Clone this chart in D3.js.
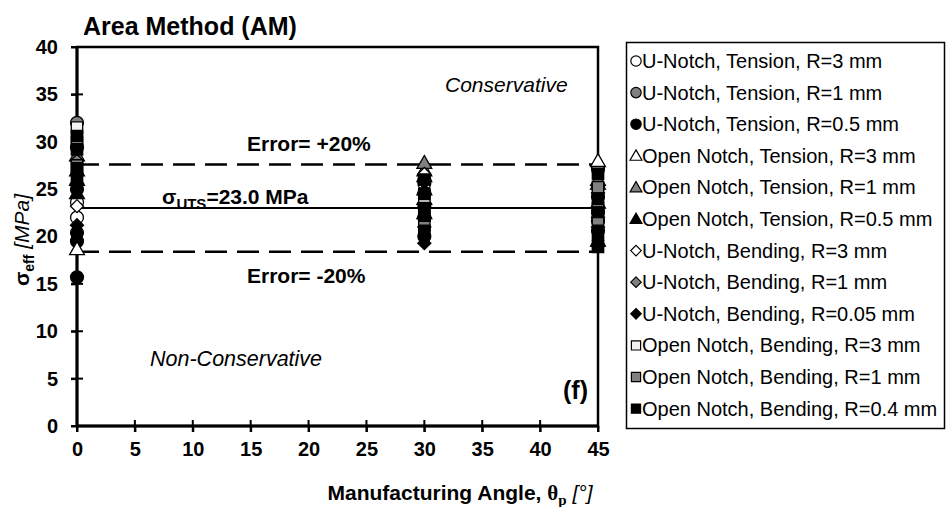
<!DOCTYPE html>
<html>
<head>
<meta charset="utf-8">
<script src="https://cdn.jsdelivr.net/npm/d3@7"></script>
<style>
  body { margin: 0; background: #fff; }
  svg { font-family: "Liberation Sans", Arial, sans-serif; }
</style>
</head>
<body>
<div id="chart"></div>
<script>
// chart data
var xTicks = [0, 5, 10, 15, 20, 25, 30, 35, 40, 45];
var yTicks = [0, 5, 10, 15, 20, 25, 30, 35, 40];
var angles = [0, 30, 45];
var sigmaUTS = 23.0;
var errBand = 0.20;

var seriesNames = [
  "U-Notch, Tension, R=3 mm",
  "U-Notch, Tension, R=1 mm",
  "U-Notch, Tension, R=0.5 mm",
  "Open Notch, Tension, R=3 mm",
  "Open Notch, Tension, R=1 mm",
  "Open Notch, Tension, R=0.5 mm",
  "U-Notch, Bending, R=3 mm",
  "U-Notch, Bending, R=1 mm",
  "U-Notch, Bending, R=0.05 mm",
  "Open Notch, Bending, R=3 mm",
  "Open Notch, Bending, R=1 mm",
  "Open Notch, Bending, R=0.4 mm"
];
var seriesShapes = ["circle", "circle", "circle", "triangle", "triangle", "triangle",
                    "diamond", "diamond", "diamond", "square", "square", "square"];
var seriesFills = ["#ffffff", "#808080", "#000000", "#ffffff", "#808080", "#000000",
                   "#ffffff", "#808080", "#000000", "#f2f2f2", "#808080", "#000000"];

// sigma_eff values per series, one list per angle (0, 30, 45)
var uTens3   = [[22.0, 23.6], [24.6, 25.6], [27.1, 24.2]];
var uTens1   = [[32.0, 29.4], [26.0, 23.2], [25.2, 21.6]];
var uTens05  = [[19.5, 15.7, 25.0, 20.4], [22.0, 20.0], [22.6, 20.6]];
var oTens3   = [[18.7, 27.0], [27.0, 26.4], [28.0, 25.6]];
var oTens1   = [[28.6], [27.8, 24.0], [26.0]];
var oTens05  = [[26.0, 24.6], [25.0, 22.5], [23.6, 19.6]];
var uBend3   = [[23.2], [26.6], [24.6]];
var uBend1   = [[28.0], [23.5], [22.0]];
var uBend005 = [[25.6, 21.2], [19.3, 21.0], [19.0, 21.0]];
var oBend3   = [[31.5, 30.0], [24.0], [23.0]];
var oBend1   = [[27.5], [21.2], [21.8, 25.2]];
var oBend04  = [[29.2, 30.6, 27.2, 26.2], [26.0, 24.5, 23.0, 22.2, 20.6], [26.6, 24.0, 22.6, 20.2, 18.9]];
var seriesValues = [uTens3, uTens1, uTens05, oTens3, oTens1, oTens05,
                    uBend3, uBend1, uBend005, oBend3, oBend1, oBend04];

var W = 946, H = 507;
var svg = d3.select("#chart").append("svg")
    .attr("width", W)
    .attr("height", H);

var x = d3.scaleLinear().domain([0, 45]).range([77, 598]);
var y = d3.scaleLinear().domain([0, 40]).range([426, 47]);

// frame (top + right)
svg.append("rect")
    .attr("x", x(0)).attr("y", y(40))
    .attr("width", x(45) - x(0)).attr("height", y(0) - y(40))
    .attr("fill", "none").attr("stroke", "#000").attr("stroke-width", 2.5);

// reference lines
svg.append("line")
    .attr("x1", x(0)).attr("x2", x(45))
    .attr("y1", y(sigmaUTS)).attr("y2", y(sigmaUTS))
    .attr("stroke", "#000").attr("stroke-width", 2);
[1 + errBand, 1 - errBand].forEach(function (f) {
  svg.append("line")
      .attr("x1", x(0)).attr("x2", x(45))
      .attr("y1", y(sigmaUTS * f)).attr("y2", y(sigmaUTS * f))
      .attr("stroke", "#000").attr("stroke-width", 2.5)
      .attr("stroke-dasharray", "22,10");
});

// axes
var yAxis = svg.append("g").attr("transform", "translate(" + x(0) + ",0)");
yAxis.call(d3.axisLeft(y).tickValues(d3.range(0, 41, 1)).tickSize(-5).tickFormat(""));
yAxis.call(d3.axisLeft(y).tickValues(yTicks).tickSize(6).tickFormat(d3.format("d")));
yAxis.selectAll("path.domain").remove();
yAxis.selectAll("line").attr("stroke", "#000").attr("stroke-width", 2);
yAxis.selectAll("text")
    .attr("font-size", 20).attr("font-weight", "bold").attr("fill", "#000")
    .attr("x", -19);
// major ticks crossing the axis
yTicks.forEach(function (t) {
  svg.append("line")
      .attr("x1", x(0) - 6).attr("x2", x(0) + 6)
      .attr("y1", y(t)).attr("y2", y(t))
      .attr("stroke", "#000").attr("stroke-width", 2);
});

var xAxis = svg.append("g").attr("transform", "translate(0," + y(0) + ")");
xAxis.call(d3.axisBottom(x).tickValues(d3.range(0, 46, 1)).tickSize(-5).tickFormat(""));
xAxis.call(d3.axisBottom(x).tickValues(xTicks).tickSize(6).tickFormat(d3.format("d")));
xAxis.selectAll("path.domain").remove();
xAxis.selectAll("line").attr("stroke", "#000").attr("stroke-width", 2);
xAxis.selectAll("text")
    .attr("font-size", 20).attr("font-weight", "bold").attr("fill", "#000")
    .attr("y", 16);
xTicks.forEach(function (t) {
  svg.append("line")
      .attr("x1", x(t)).attr("x2", x(t))
      .attr("y1", y(0) - 6).attr("y2", y(0) + 6)
      .attr("stroke", "#000").attr("stroke-width", 2);
});

// thick axis lines
svg.append("line").attr("x1", x(0)).attr("x2", x(0)).attr("y1", y(0)).attr("y2", y(40))
    .attr("stroke", "#000").attr("stroke-width", 3);
svg.append("line").attr("x1", x(0)).attr("x2", x(45)).attr("y1", y(0)).attr("y2", y(0))
    .attr("stroke", "#000").attr("stroke-width", 3);

// markers (Excel-like diamond = square turned 45 degrees)
var squareDiamond = {
  draw: function (context, size) {
    var r = Math.sqrt(size / 2);
    context.moveTo(0, -r);
    context.lineTo(r, 0);
    context.lineTo(0, r);
    context.lineTo(-r, 0);
    context.closePath();
  }
};
var symbolTypes = {
  circle: d3.symbolCircle,
  triangle: d3.symbolTriangle,
  diamond: squareDiamond,
  square: d3.symbolSquare
};
var symbolSizes = { circle: 130, triangle: 95, diamond: 85, square: 130 };

function markerPath(shape, k) {
  return d3.symbol().type(symbolTypes[shape]).size(symbolSizes[shape] * k)();
}

var points = [];
seriesValues.forEach(function (sv, si) {
  sv.forEach(function (vals, ai) {
    vals.forEach(function (v) {
      points.push({ s: si, a: angles[ai], v: v });
    });
  });
});

svg.append("g").selectAll("path")
    .data(points)
    .enter()
    .append("path")
    .attr("d", function (d) { return markerPath(seriesShapes[d.s], 1); })
    .attr("transform", function (d) {
      var dy = seriesShapes[d.s] === "triangle" ? 1.5 : 0;
      return "translate(" + x(d.a) + "," + (y(d.v) + dy) + ")";
    })
    .attr("fill", function (d) { return seriesFills[d.s]; })
    .attr("stroke", "#000")
    .attr("stroke-width", 1.3);

// annotations
svg.append("text").attr("x", 83).attr("y", 35)
    .attr("font-size", 25).attr("font-weight", "bold")
    .text("Area Method (AM)");

svg.append("text").attr("x", 445).attr("y", 92)
    .attr("font-size", 21).attr("font-style", "italic")
    .text("Conservative");

svg.append("text").attr("x", 150).attr("y", 366)
    .attr("font-size", 21.5).attr("font-style", "italic")
    .text("Non-Conservative");

svg.append("text").attr("x", 563).attr("y", 399)
    .attr("font-size", 25).attr("font-weight", "bold")
    .text("(f)");

svg.append("text").attr("x", 247).attr("y", 151)
    .attr("font-size", 21).attr("font-weight", "bold")
    .text("Error= +20%");

svg.append("text").attr("x", 247).attr("y", 283)
    .attr("font-size", 21).attr("font-weight", "bold")
    .text("Error= -20%");

var uts = svg.append("text").attr("x", 162).attr("y", 204)
    .attr("font-size", 21).attr("font-weight", "bold");
uts.append("tspan").text("σ");
uts.append("tspan").attr("font-size", 15).attr("dy", 5).text("UTS");
uts.append("tspan").attr("dy", -5).text("=23.0 MPa");

// axis titles
var xt = svg.append("text").attr("x", 460).attr("y", 500)
    .attr("text-anchor", "middle")
    .attr("font-size", 21).attr("font-weight", "bold");
xt.append("tspan").text("Manufacturing Angle, ");
xt.append("tspan").attr("font-family", "Liberation Serif, serif").text("θ");
xt.append("tspan").attr("font-family", "Liberation Serif, serif").attr("font-size", 15).attr("dy", 5).text("p");
xt.append("tspan").attr("dy", -5).attr("font-weight", "normal").attr("font-style", "italic").text(" [°]");

var yt = svg.append("text")
    .attr("transform", "translate(29,240) rotate(-90)")
    .attr("text-anchor", "middle")
    .attr("font-size", 21).attr("font-weight", "bold");
yt.append("tspan").text("σ");
yt.append("tspan").attr("font-size", 14).attr("dy", 5).text("eff");
yt.append("tspan").attr("dy", -5).attr("font-weight", "normal").attr("font-style", "italic").text(" [MPa]");

// legend
var legend = svg.append("g");
legend.append("rect")
    .attr("x", 626.5).attr("y", 42.5)
    .attr("width", 318).attr("height", 386)
    .attr("fill", "#fff").attr("stroke", "#000").attr("stroke-width", 1.5);

var legendItems = legend.selectAll("g.item")
    .data(seriesNames)
    .enter()
    .append("g")
    .attr("class", "item")
    .attr("transform", function (d, i) { return "translate(0," + (61 + i * 31.6) + ")"; });

legendItems.append("path")
    .attr("d", function (d, i) { return markerPath(seriesShapes[i], 0.65); })
    .attr("transform", function (d, i) {
      return "translate(636," + (seriesShapes[i] === "triangle" ? 1 : 0) + ")";
    })
    .attr("fill", function (d, i) { return seriesFills[i]; })
    .attr("stroke", "#000")
    .attr("stroke-width", 1.2);

legendItems.append("text")
    .attr("x", 642).attr("y", 7)
    .attr("font-size", 20)
    .text(function (d) { return d; });
</script>
</body>
</html>
